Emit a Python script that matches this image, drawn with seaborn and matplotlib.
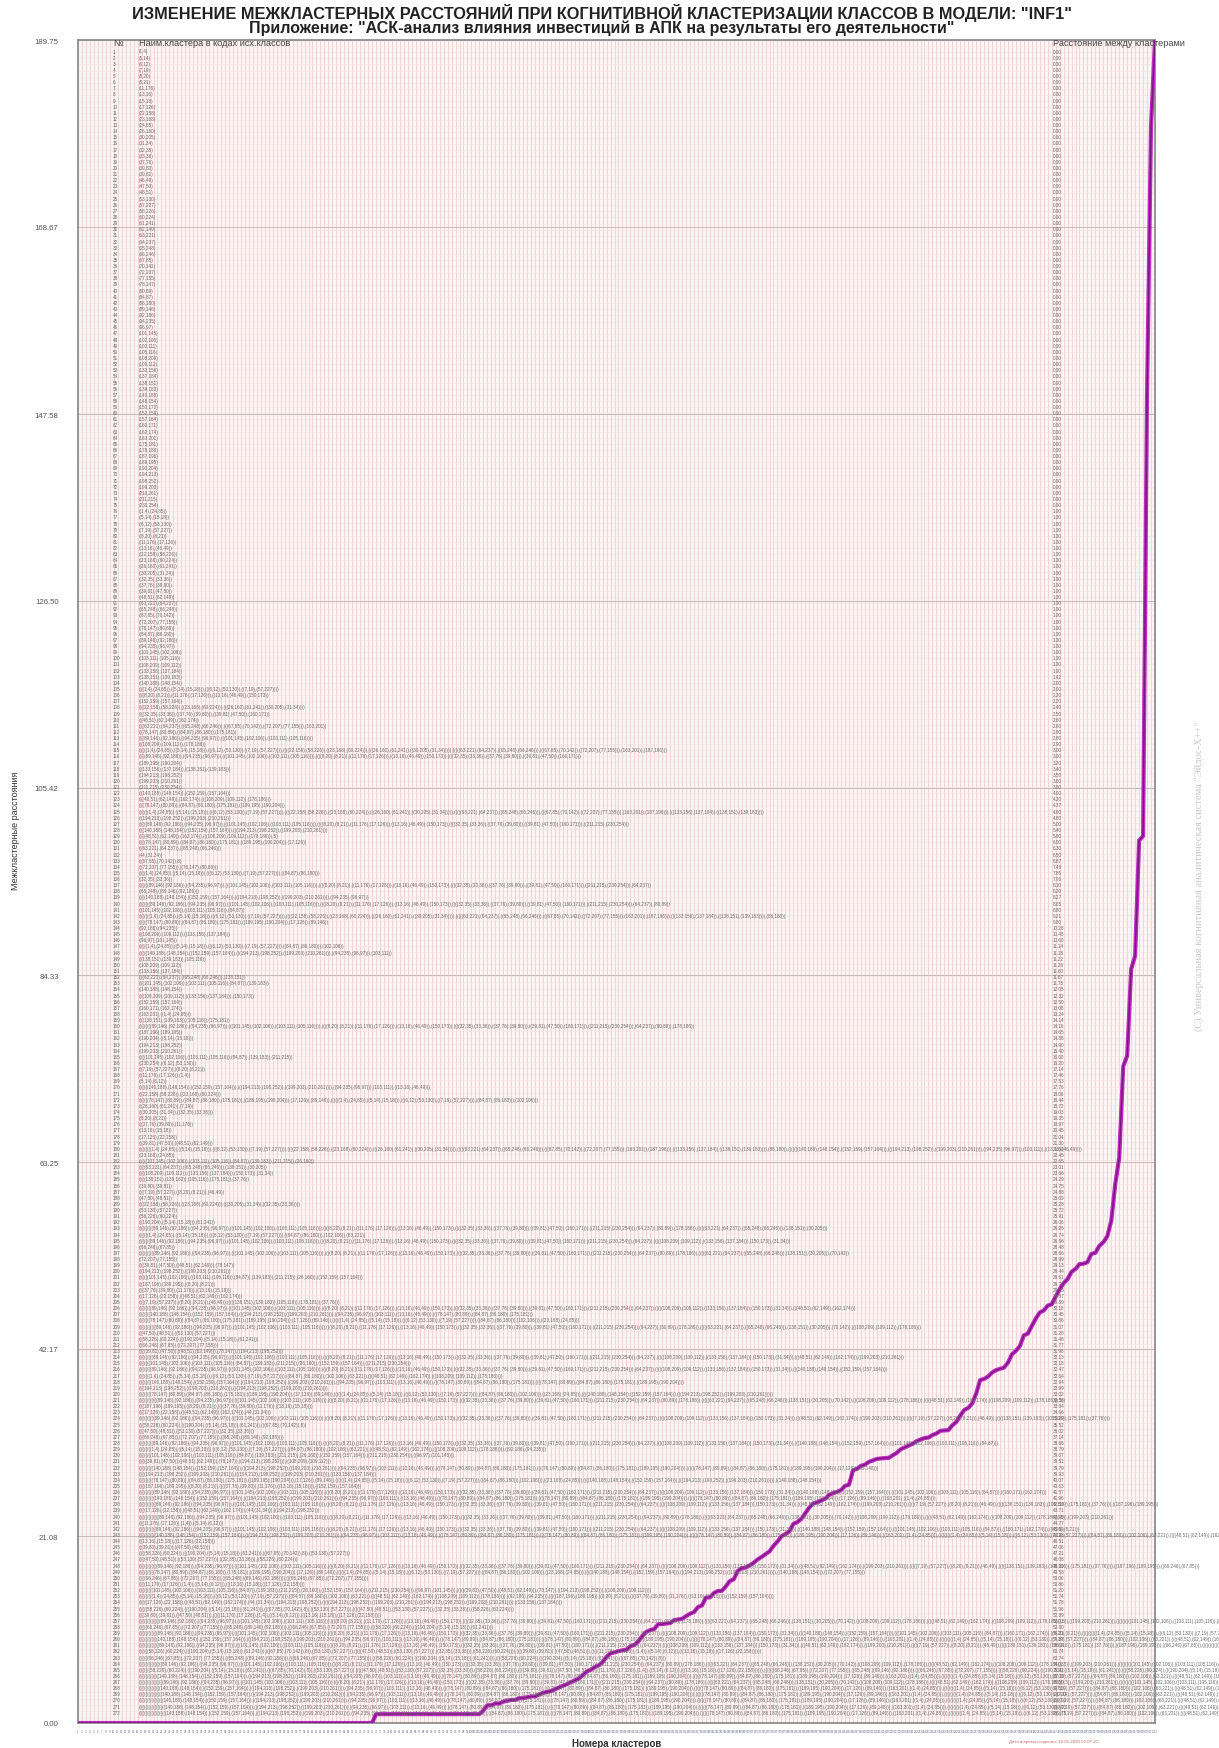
import re
import matplotlib
matplotlib.use("Agg")
import matplotlib.pyplot as plt
from matplotlib.ticker import MultipleLocator
import pandas as pd
import seaborn as sns

TITLE = 'ИЗМЕНЕНИЕ МЕЖКЛАСТЕРНЫХ РАССТОЯНИЙ ПРИ КОГНИТИВНОЙ КЛАСТЕРИЗАЦИИ КЛАССОВ В МОДЕЛИ: "INF1"'
SUBTITLE = 'Приложение: "АСК-анализ влияния инвестиций в АПК на результаты его деятельности"'
Y_LABEL = "Межкластерные расстояния"
X_LABEL = "Номера кластеров"
HEADERS = ["№", "Наим.кластера в кодах исх.классов", "Расстояние между кластерами"]
COPYRIGHT = '(С) Универсальная когнитивная аналитическая система "Эйдос-Х++"'
STAMP = "Дата и время создания: 10.01.2020 02:07:20"

Y_TICKS = [0.00, 21.08, 42.17, 63.25, 84.33, 105.42, 126.50, 147.58, 168.67, 189.75]

# merge distances, one per clustering step (rows 1..272)
DIST_ZERO = [
    0.00, 0.00, 0.00, 0.00, 0.00, 0.00, 0.00, 0.00, 0.00, 0.00,
    0.00, 0.00, 0.00, 0.00, 0.00, 0.00, 0.00, 0.00, 0.00, 0.00,
    0.00, 0.00, 0.00, 0.00, 0.00, 0.00, 0.00, 0.00, 0.00, 0.00,
    0.00, 0.00, 0.00, 0.00, 0.00, 0.00, 0.00, 0.00, 0.00, 0.00,
    0.00, 0.00, 0.00, 0.00, 0.00, 0.00, 0.00, 0.00, 0.00, 0.00,
    0.00, 0.00, 0.00, 0.00, 0.00, 0.00, 0.00, 0.00, 0.00, 0.00,
    0.00, 0.00, 0.00, 0.00, 0.00, 0.00, 0.00, 0.00, 0.00, 0.00,
    0.00, 0.00, 0.00, 0.00, 0.00,
]
DIST_LOW = [
    1.00, 1.00, 1.00, 1.00, 1.00, 1.00, 1.00, 1.00, 1.00, 1.00,
    1.00, 1.00, 1.00, 1.00, 1.00, 1.00, 1.00, 1.00, 1.00, 1.00,
    1.00, 1.00, 1.00, 1.00, 1.00, 1.00, 1.00, 1.42,
    2.00, 2.00, 2.20, 2.20, 2.40, 2.50, 2.60, 2.60, 2.80, 2.80,
    2.90, 3.00, 3.00, 3.20, 3.40, 3.50, 3.60, 3.80, 4.00, 4.20,
    4.37, 4.60, 4.80, 5.00, 5.40, 5.80, 6.00, 6.30, 6.50,
]
DIST_MID = [
    6.87, 7.46, 7.86, 7.96, 8.10, 8.20, 8.27, 8.65, 8.80, 9.21,
    9.80, 10.28, 10.48, 10.60, 11.14, 11.15, 11.22, 11.26, 11.60, 11.67,
    11.75, 12.05, 12.32, 12.50, 13.08, 13.24, 14.14, 14.16, 14.65, 14.88,
    14.90, 15.40, 16.00, 16.20, 17.14, 17.46, 17.53, 17.76, 18.06, 18.44,
    18.72, 19.03, 19.35, 19.97, 20.45, 21.04, 21.30, 21.60, 22.45, 22.65,
    23.01, 23.66, 24.29, 24.75, 24.88, 25.09, 25.28, 25.72, 25.91, 26.06,
    26.26, 26.74, 26.86, 28.48, 28.66, 28.99, 29.13, 29.44, 29.61, 29.77,
    29.83, 29.87,
]
DIST_HIGH = [
    29.89, 30.18, 30.45, 30.86, 31.07, 31.28, 31.48, 31.77, 31.96, 32.13,
    32.18, 32.47, 32.64, 32.94, 32.99, 33.02, 33.56, 33.94, 34.66, 35.29,
    35.52, 36.02, 37.14, 38.66, 38.79, 39.07, 39.51, 39.79, 39.93, 40.07,
    40.63, 41.57, 41.96, 42.50, 43.71, 43.90, 44.77, 45.60, 46.28, 46.51,
    47.06, 47.21, 48.08, 48.90, 49.58, 50.06, 50.86, 51.20, 51.74, 51.78,
    51.96, 52.89, 53.01, 53.80, 54.21, 54.87, 56.64, 60.74, 63.74, 74.03,
    75.22, 85.00, 86.50, 99.50, 100.00, 150.00, 180.00, 189.75,
]

# cluster names: plain pairs of source classes, "#k" refers to the cluster formed at step k
NAMES_PAIRS = [
    "(1,4)", "(5,14)", "(6,12)", "(7,19)", "(8,20)", "(8,21)", "(11,176)", "(13,16)", "(15,18)", "(17,126)",
    "(22,158)", "(23,168)", "(24,85)", "(26,160)", "(30,205)", "(31,34)", "(32,35)", "(33,36)", "(37,76)", "(39,80)",
    "(39,81)", "(46,49)", "(47,50)", "(48,51)", "(53,130)", "(57,227)", "(58,226)", "(60,224)", "(61,241)", "(62,149)",
    "(63,221)", "(64,237)", "(65,248)", "(66,246)", "(67,85)", "(70,142)", "(72,207)", "(77,155)", "(78,147)", "(80,89)",
    "(84,87)", "(86,180)", "(89,146)", "(92,186)", "(94,235)", "(96,97)", "(101,145)", "(102,106)", "(103,111)", "(105,116)",
    "(108,209)", "(109,112)", "(133,156)", "(137,184)", "(138,151)", "(139,183)", "(140,188)", "(148,154)", "(150,173)", "(152,159)",
    "(157,164)", "(160,171)", "(162,174)", "(163,201)", "(175,181)", "(178,186)", "(187,196)", "(189,195)", "(190,204)", "(194,213)",
    "(198,252)", "(199,203)", "(210,261)", "(211,215)", "(230,254)",
]
NAMES_MERGED = [
    "(#1,#13)", "(#2,#9)", "(#3,#25)", "(#4,#26)", "(#5,#6)", "(#7,#10)", "(#8,#22)", "(#11,#27)", "(#12,#28)", "(#14,#29)",
    "(#15,#16)", "(#17,#18)", "(#19,#20)", "(#21,#23)", "(#24,#30)", "(#31,#32)", "(#33,#34)", "(#35,#36)", "(#37,#38)", "(#39,#40)",
    "(#41,#42)", "(#43,#44)", "(#45,#46)", "(#47,#48)", "(#49,#50)", "(#51,#52)", "(#53,#54)", "(#55,#56)",
    "(#57,#58)", "((#76,#77),(#78,#79))", "((#80,#81),#82,#59)", "(#60,#61)", "((#83,#84),(#85,#86))", "((#87,#88),#89,#62)",
    "(#90,#63)", "((#91,#92),(#93,#94),#64)", "(#95,#96,#65)", "((#97,#98),(#99,#100))", "(#101,#66)",
    "((#105,#108),(#111,#67))", "(#113,#106,#109)", "(#68,#69)", "(#102,#103)", "(#70,#71)", "(#72,#73)", "(#74,#75)",
    "(#104,#107)", "(#110,#114)", "(#112,#117)", "(#115,#118)", "(#119,#120)", "(#116,#121)", "(#122,#126)", "(#123,5)",
    "(#124,#10)",
    "(#91,#92)", "(44,#16)", "(#93,8)", "(#94,#95)", "(#105,#96)", "(#17,#18)", "(#127,#32)", "(#33,#97)", "(#128,#98)",
    "(#137,#40)", "(#99,#100,#41)", "(#125,#42)", "(#130,#43)", "(#44,#45)", "(#101,#102)", "(#46,#47)", "(#135,#48)",
    "(#139,#49)", "(#103,#50)", "(#51,#52)", "(#53,#54)", "(#131,#55)", "(#141,#56)", "(#57,#58)", "(#145,#59)",
    "(#60,#61)", "(#62,#63)", "(#64,#76)", "(#149,#65)", "(#140,#66)", "(#67,#68)", "(#69,#77)", "(#70,#71)",
    "(#72,#73)", "(#153,#74)", "(#75,#78)", "(#79,#80)", "(#81,#1)", "(#2,#3)", "(#148,#82)", "(#83,#84)",
    "(#143,#147)", "(#85,#4)", "(#86,#87)", "(#5,#6)", "(#88,#7)", "(#8,#9)", "(#10,#11)", "(#89,#90)",
    "(#142,#170)", "(#12,#13)", "(#165,#14)", "(#152,#15)", "(#155,#16)", "(#159,#19)", "(#20,#21)", "(#167,#22)",
    "(#23,#24)", "(#171,#174)", "(#25,#26)", "(#27,#28)", "(#162,#29)", "(#160,#183)", "(#147,#31)", "(#137,#184)",
    "(#34,#35)", "(#193,#36)", "(#37,#38)", "(#179,#39)", "(#163,#164)", "(#182,#107)", "(#161,#175)", "(#176,#177)",
    "(#178,#110)", "(#187,#185)", "(#195,#110)", "(#170,#112)", "(#172,#181)", "(#197,#114)", "(#188,#190)", "(#191,#192)",
    "(#196,#198)", "(#199,#119)", "(#206,#120)", "(#201,#121)", "(#195,#122)", "(#194,#123)", "(#207,#124)", "(#200,#126)",
    "(#208,#128)", "(#209,#129)", "(#202,#203)", "(#204,#132)", "(#214,#205)", "(#211,#133)", "(#210,#136)", "(#212,#138)",
    "(#216,#141)", "(#217,#144)", "(#215,#146)", "(#213,#150)", "(#218,#143)", "(#219,#151)", "(#220,#154)", "(#222,#156)",
    "(#228,#157)", "(#232,#158)", "(#224,#161)", "(#223,#163)", "(#221,#164)", "(#168,#169)", "(#236,#175)", "(#237,#229)",
    "(#177,#178)", "(#186,#188)", "(#225,#190)", "(#226,#191)", "(#238,#196)", "(#234,#198)", "(#227,#212)", "(#241,#244)",
    "(#230,#231)", "(#229,#235)", "(#239,#233)", "(#246,#247)", "(#245,#251)", "(#240,#252)", "(#250,#211)", "(#242,#253)",
    "(#243,#254)", "(#248,#249)", "(#255,#256)", "(#258,#225)", "(#257,#259)", "(#262,#263)", "(#260,#261)", "(#264,#265)",
    "(#266,#267)", "(#268,#241)", "(#269,#244)", "(#270,#245)", "(#271,#262)",
]


def expand_names(specs):
    names = []
    for spec in specs:
        names.append(re.sub(r"#(\d+)", lambda m: names[int(m.group(1)) - 1], spec))
    return names


distances = DIST_ZERO + DIST_LOW + DIST_MID + DIST_HIGH
names = expand_names(NAMES_PAIRS + NAMES_MERGED)
n = len(distances)
df = pd.DataFrame({"cluster": range(1, n + 1), "distance": distances, "name": names[:n]})

sns.set_theme(style="white")
plt.rcParams["font.family"] = ["Liberation Sans", "DejaVu Sans"]

W, H = 1219, 1749
fig = plt.figure(figsize=(W / 100, H / 100), dpi=100)
fig.patch.set_facecolor("white")
ax_l, ax_r, ax_t, ax_b = 78, 1155, 41, 1724
ax = fig.add_axes([ax_l / W, 1 - ax_b / H, (ax_r - ax_l) / W, (ax_b - ax_t) / H])
ax.set_facecolor("#fdf5f5")

# dense grid: one vertical line per cluster, fine horizontal rulings
ax.set_xlim(1, n)
ax.set_ylim(Y_TICKS[0], Y_TICKS[-1])
ax.set_xticks(df["cluster"])
ax.set_xticklabels([str(c) for c in df["cluster"]], fontsize=2.1, color="#6c7080")
ax.set_yticks(Y_TICKS)
ax.set_yticklabels([f"{t:.2f}" for t in Y_TICKS], fontsize=5.6, color="#555555")
ax.yaxis.set_minor_locator(MultipleLocator(0.69))
ax.grid(which="major", axis="x", color="#f0c8c8", lw=0.5)
ax.grid(which="minor", axis="y", color="#f8e0e0", lw=0.4)
ax.grid(which="major", axis="y", color="#c8b8b8", lw=0.7)
ax.tick_params(axis="x", length=0, pad=4)
ax.tick_params(axis="y", which="major", length=11, width=0.5, color="#c0c0c0", pad=3)
ax.tick_params(axis="y", which="minor", length=0)
for sp in ax.spines.values():
    sp.set_color("#8f8f8f")
    sp.set_linewidth(1.3)

sns.lineplot(data=df, x="cluster", y="distance", color="#c22cc2", lw=3.0, ax=ax, zorder=5)
sns.lineplot(data=df, x="cluster", y="distance", color="#7c1685", lw=1.1, ax=ax, zorder=6)
ax.set_xlabel(X_LABEL, fontsize=7, fontweight="bold", color="#333333", labelpad=4)
ax.set_ylabel("")

# table of merge steps drawn over the plot area
row0, row_step = 52, 6.13
txt_kw = dict(fontsize=3.3, color="#6a6a6a", va="center", ha="left", clip_on=False)
hdr_kw = dict(fontsize=6.6, color="#444444", va="center", ha="left")
fig.text(113 / W, 1 - 44 / H, HEADERS[0], **hdr_kw)
fig.text(139 / W, 1 - 44 / H, HEADERS[1], **hdr_kw)
fig.text(1053 / W, 1 - 44 / H, HEADERS[2], **hdr_kw)
for i, row in df.iterrows():
    yp = 1 - (row0 + i * row_step) / H
    fig.text(113 / W, yp, str(row["cluster"]), **txt_kw)
    fig.text(139 / W, yp, row["name"], **txt_kw)
    fig.text(1053 / W, yp, f"{row['distance']:.2f}", **txt_kw)

fig.text(0.494, 1 - 13 / H, TITLE, ha="center", va="center", fontsize=11.8, fontweight="bold", color="#222222")
fig.text(0.494, 1 - 28 / H, SUBTITLE, ha="center", va="center", fontsize=11.5, fontweight="bold", color="#222222")
fig.text(16 / W, 1 - 831 / H, Y_LABEL, rotation=90, ha="center", va="center", fontsize=6.5, color="#333333")
fig.text(1199 / W, 1 - 876 / H, COPYRIGHT, rotation=90, ha="center", va="center", fontsize=7.5,
         family=["Liberation Serif", "DejaVu Serif"], color="#c8c8c8")
fig.text(1009 / W, 1 - 1742 / H, STAMP, ha="left", va="center", fontsize=3.2, color="#c06a6a")

fig.savefig("out.png", dpi=100)
